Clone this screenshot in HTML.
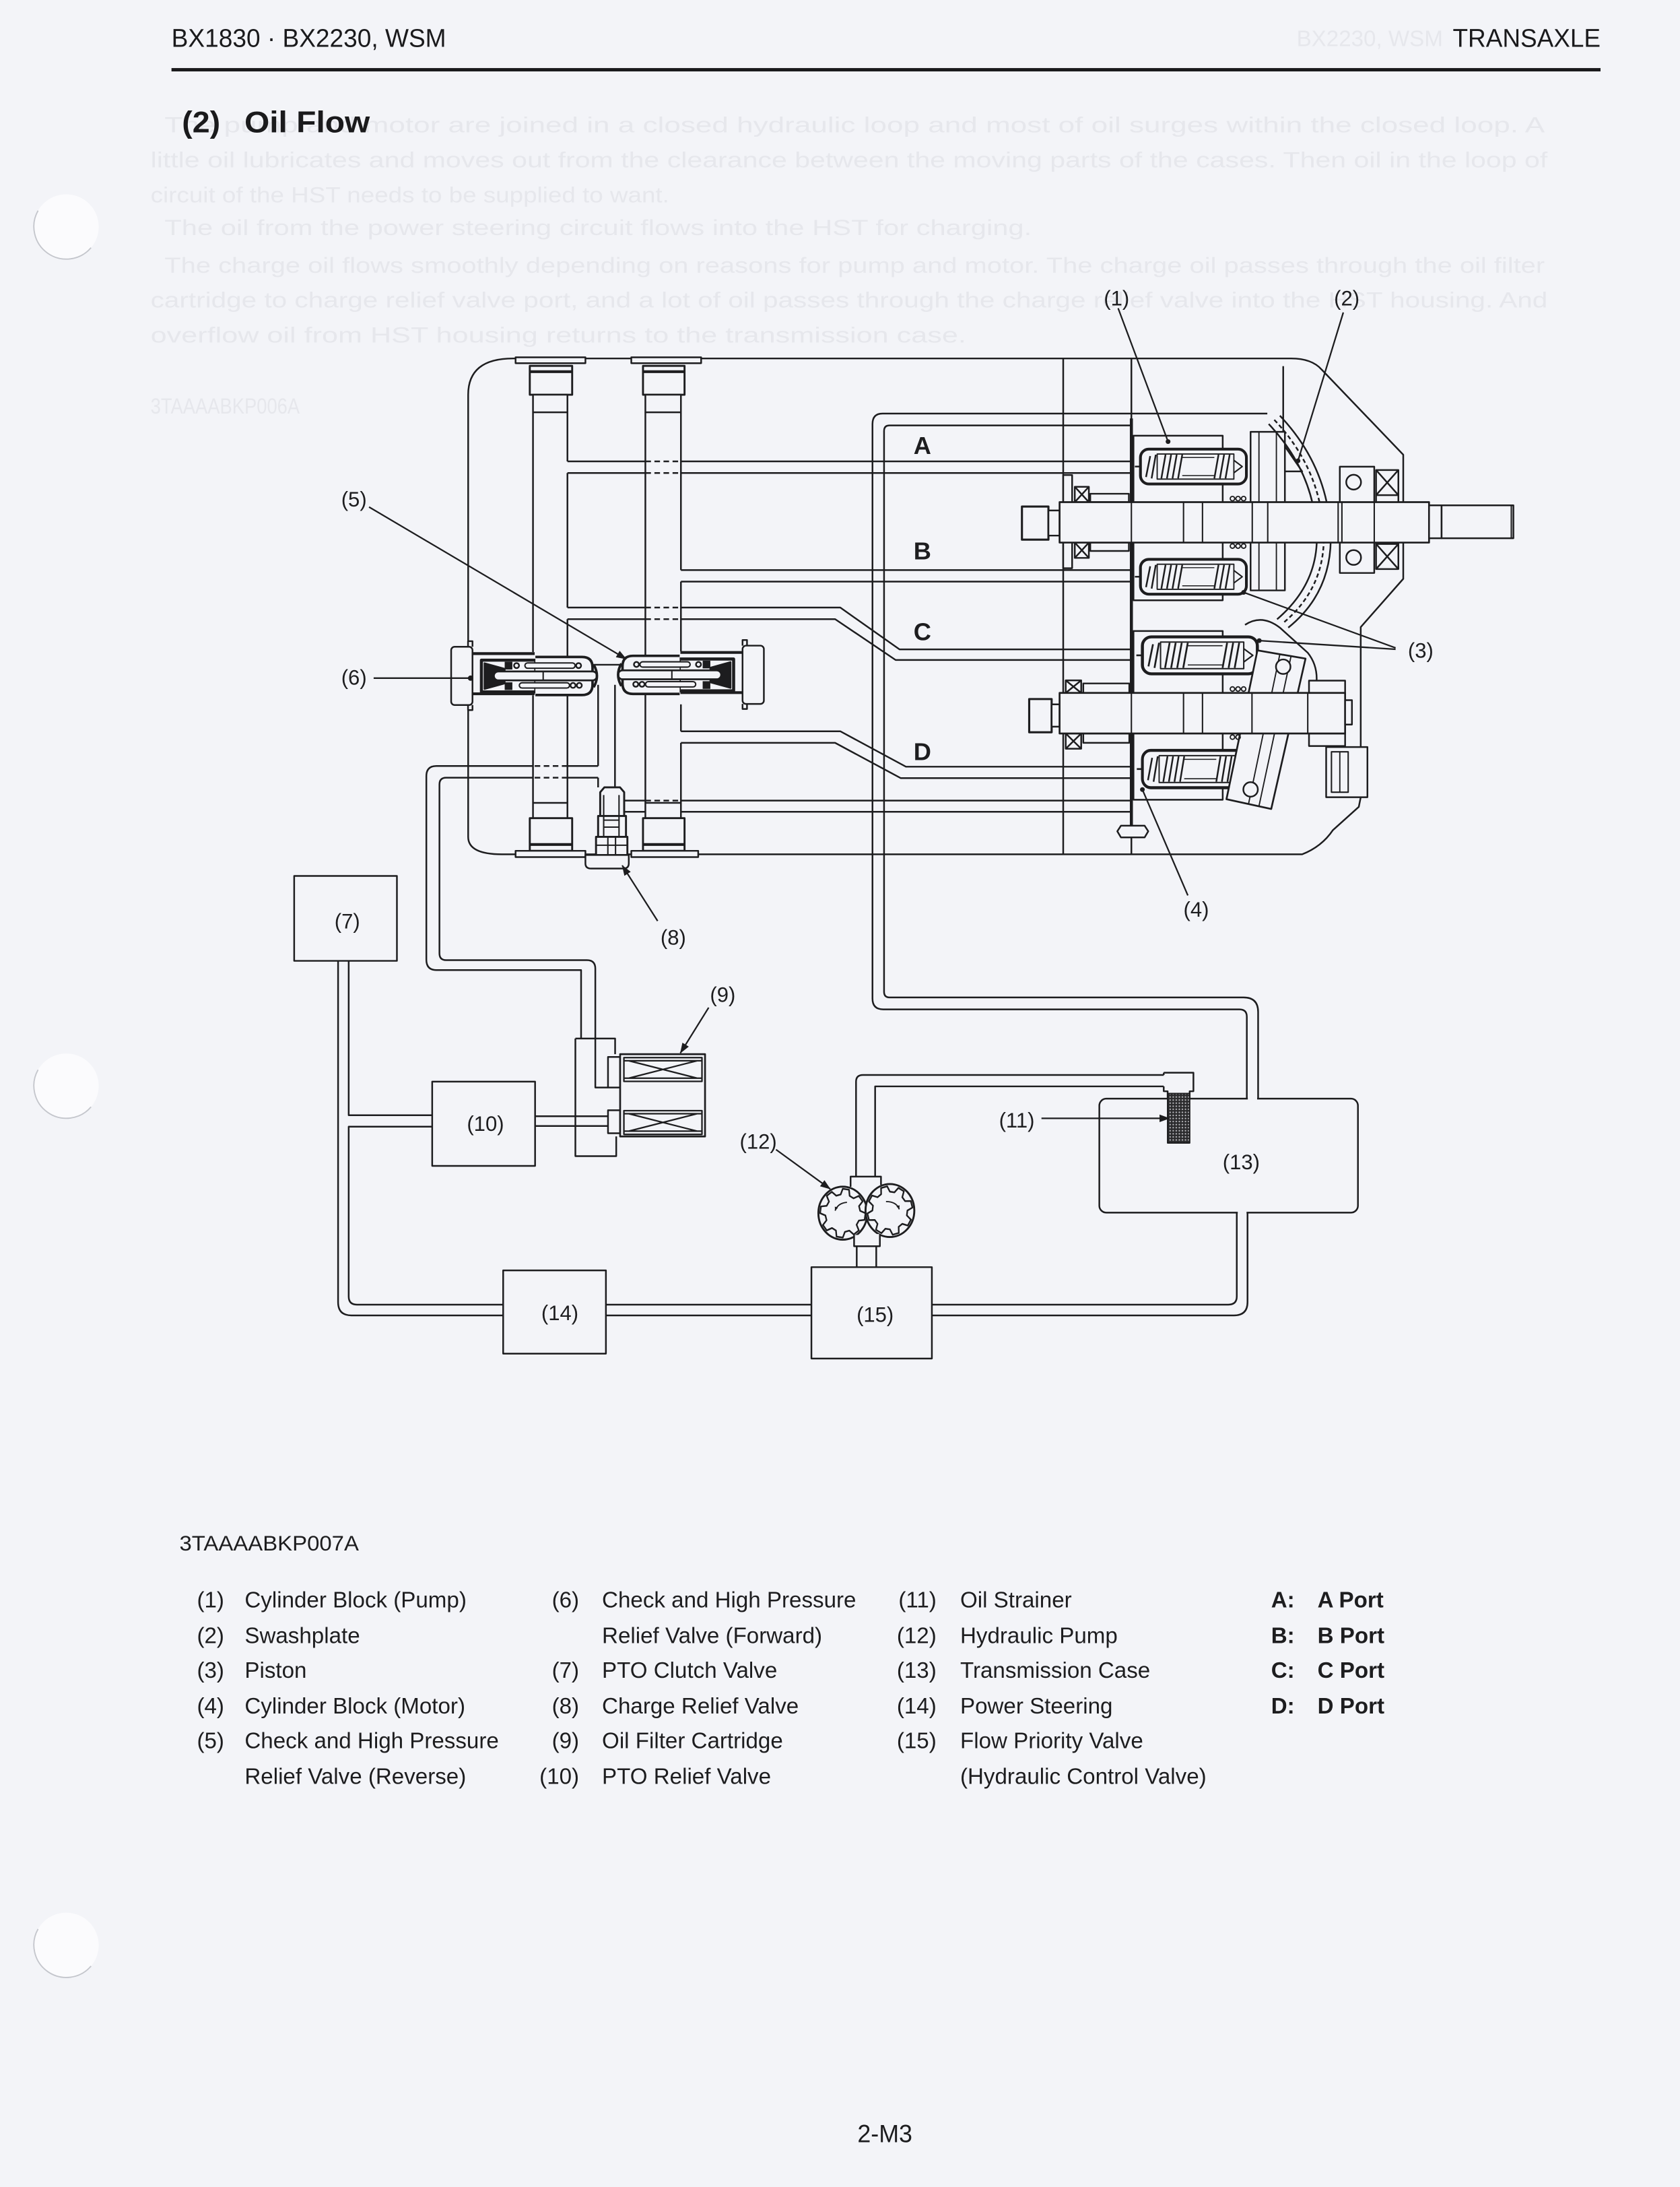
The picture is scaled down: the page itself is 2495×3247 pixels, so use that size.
<!DOCTYPE html>
<html><head><meta charset="utf-8"><title>Oil Flow</title>
<style>html,body{margin:0;padding:0;background:#f3f4f8;}svg{display:block;}</style>
</head><body>
<svg xmlns="http://www.w3.org/2000/svg" width="2495" height="3247" viewBox="0 0 1205 1568" preserveAspectRatio="none" font-family="'Liberation Sans', Arial, Helvetica, sans-serif">
<defs>
<marker id="ah" viewBox="0 0 10 10" refX="9.5" refY="5" markerWidth="7.5" markerHeight="7.5" orient="auto" markerUnits="userSpaceOnUse"><path d="M0,1.4 L10,5 L0,8.6 Z" fill="#1d1d1f"/></marker>
<marker id="sah" viewBox="0 0 10 10" refX="9" refY="5" markerWidth="3" markerHeight="3" orient="auto" markerUnits="userSpaceOnUse"><path d="M0,1 L10,5 L0,9 Z" fill="#1d1d1f"/></marker>
<pattern id="dots" width="2.2" height="2.2" patternUnits="userSpaceOnUse"><rect width="2.2" height="2.2" fill="#2b2b2d"/><circle cx="1.1" cy="1.1" r="0.55" fill="#b8b8bc"/></pattern>
<path id="gear" d="M13.04,-3.49 L17.33,-2.44 L17.33,2.44 L13.04,3.49 L11.69,6.75 L13.98,10.53 L10.53,13.98 L6.75,11.69 L3.49,13.04 L2.44,17.33 L-2.44,17.33 L-3.49,13.04 L-6.75,11.69 L-10.53,13.98 L-13.98,10.53 L-11.69,6.75 L-13.04,3.49 L-17.33,2.44 L-17.33,-2.44 L-13.04,-3.49 L-11.69,-6.75 L-13.98,-10.53 L-10.53,-13.98 L-6.75,-11.69 L-3.49,-13.04 L-2.44,-17.33 L2.44,-17.33 L3.49,-13.04 L6.75,-11.69 L10.53,-13.98 L13.98,-10.53 L11.69,-6.75 Z"/>
<g id="pis" fill="none" stroke="#1d1d1f" stroke-linejoin="round">
 <path d="M-4,12.5 H0" stroke-width="1.2"/>
 <rect x="0" y="0" width="76" height="25" rx="6" fill="#f3f4f8" stroke-width="2"/>
 <rect x="12" y="3.5" width="55" height="18" stroke-width="0.9"/>
 <path d="M4,20 L7,5 M8,21 L11,4 M15,21 L18,4 M19,21 L22,4 M23,21 L26,4 M27,21 L30,4 M53,21 L56,4 M57,21 L60,4 M61,21 L64,4" stroke-width="1.2"/>
 <path d="M30,6 H53 M30,19 H53" stroke-width="0.7"/>
 <path d="M67,8 L73,12.5 L67,17" stroke-width="1"/>
</g>
<g id="v6" fill="none" stroke="#1d1d1f" stroke-width="1.2" stroke-linejoin="round">
 <rect x="323.6" y="463.7" width="15.3" height="41.8" rx="2.5" fill="#f3f4f8"/>
 <path d="M335.7,463.7 V459.7 H338.9 V463.7 M335.7,505.5 V509.1 H338.9 V505.5"/>
 <path d="M338.9,468.6 H383.5 M338.9,497.4 H383.5" stroke-width="2"/>
 <rect x="345.3" y="473.3" width="39" height="22.8" fill="#f3f4f8" stroke-width="2.2"/>
 <path d="M347.5,475.5 L362,479.5 V490 L347.5,494 Z" fill="#1d1d1f"/>
 <rect x="362" y="474.5" width="5.5" height="5.5" fill="#1d1d1f" stroke="none"/>
 <rect x="362" y="489.2" width="5.5" height="5.5" fill="#1d1d1f" stroke="none"/>
 <path d="M384,471 H417.5 Q425,471 425,478.5 V490.8 Q425,498.3 417.5,498.3 H384" fill="#f3f4f8" stroke-width="1.8"/>
 <rect x="376.5" y="475.3" width="36" height="3.8" rx="1.9" fill="#f3f4f8" stroke-width="1"/>
 <rect x="372.5" y="489.5" width="36" height="3.8" rx="1.9" fill="#f3f4f8" stroke-width="1"/>
 <circle cx="370.5" cy="477.2" r="1.8" fill="#f3f4f8"/>
 <circle cx="415" cy="477.2" r="1.8" fill="#f3f4f8"/>
 <circle cx="411" cy="491.4" r="1.8" fill="#f3f4f8"/>
 <circle cx="415.5" cy="491.4" r="1.8" fill="#f3f4f8"/>
 <rect x="354.2" y="481.4" width="74" height="6.4" rx="3.2" fill="#f3f4f8" stroke-width="1.3"/>
 <path d="M389.6,481.4 V487.8" stroke-width="1"/>
 <path d="M425.8,476.5 Q430.5,484.6 425.8,492.7" stroke-width="1.8"/>
</g>
</defs>

<rect x="0" y="0" width="1205" height="1568" fill="#f3f4f8"/>

<!-- hole punches -->
<g>
<circle cx="47.5" cy="162.6" r="23.3" fill="#fbfbfd"/>
<path d="M27.3,151 A23.3,23.3 0 0 0 65.3,177.6" fill="none" stroke="#c4c6cc" stroke-width="0.9"/>
<circle cx="47.5" cy="778.6" r="23.3" fill="#fbfbfd"/>
<path d="M27.3,767 A23.3,23.3 0 0 0 65.3,793.6" fill="none" stroke="#c4c6cc" stroke-width="0.9"/>
<circle cx="47.5" cy="1394.6" r="23.3" fill="#fbfbfd"/>
<path d="M27.3,1383 A23.3,23.3 0 0 0 65.3,1409.6" fill="none" stroke="#c4c6cc" stroke-width="0.9"/>
</g>

<!-- ghost bleed-through text -->
<g fill="#e6e7ec" font-size="15.5">
<text x="118" y="95" textLength="990" lengthAdjust="spacingAndGlyphs">The pump and motor are joined in a closed hydraulic loop and most of oil surges within the closed loop. A</text>
<text x="108" y="120" textLength="1002" lengthAdjust="spacingAndGlyphs">little oil lubricates and moves out from the clearance between the moving parts of the cases. Then oil in the loop of</text>
<text x="108" y="145" textLength="372" lengthAdjust="spacingAndGlyphs">circuit of the HST needs to be supplied to want.</text>
<text x="118" y="168.5" textLength="622" lengthAdjust="spacingAndGlyphs">The oil from the power steering circuit flows into the HST for charging.</text>
<text x="118" y="195.5" textLength="990" lengthAdjust="spacingAndGlyphs">The charge oil flows smoothly depending on reasons for pump and motor. The charge oil passes through the oil filter</text>
<text x="108" y="220.5" textLength="1002" lengthAdjust="spacingAndGlyphs">cartridge to charge relief valve port, and a lot of oil passes through the charge relief valve into the HST housing. And</text>
<text x="108" y="245.5" textLength="585" lengthAdjust="spacingAndGlyphs">overflow oil from HST housing returns to the transmission case.</text>
<text x="108" y="296.5" textLength="107" lengthAdjust="spacingAndGlyphs">3TAAAABKP006A</text>
<text x="930" y="33" font-size="16">BX2230, WSM</text>
</g>

<!-- header -->
<g fill="#1a1a1c">
<text x="123" y="33.6" font-size="18.3" textLength="197" lengthAdjust="spacingAndGlyphs">BX1830 · BX2230, WSM</text>
<text x="1042" y="33.6" font-size="18.3" textLength="106" lengthAdjust="spacingAndGlyphs">TRANSAXLE</text>
<rect x="123" y="48.8" width="1025" height="2.4"/>
<text x="130.5" y="95" font-size="21.5" font-weight="bold" textLength="27.5" lengthAdjust="spacingAndGlyphs">(2)</text>
<text x="175.3" y="95" font-size="21.5" font-weight="bold" textLength="90" lengthAdjust="spacingAndGlyphs">Oil Flow</text>
</g>

<!-- DIAGRAM -->
<g fill="none" stroke="#1d1d1f" stroke-width="1.2" stroke-linejoin="round">
<!-- housing outline -->
<path d="M335.8,459.7 V283 Q335.8,257 368,257 H926 Q941,257 948,265 L1006.5,326 V415 L976,449.6 V571.6 L974.6,578.5 L956,595.2 Q948,607 934,612.5 H360 Q335.8,612.5 335.8,600 V509"/>
<path d="M920.4,262.5 V312.4"/>
<path d="M762.6,257 V612.5"/>
<path d="M811.5,257 V612.5"/>
<path d="M811.5,300 V600" stroke-width="2.2"/>

<!-- tube walls -->
<path d="M382.3,295.6 V467.5 M382.3,498.5 V575.6"/>
<path d="M407,295.6 V330.8 M407,339.1 V435.6 M407,443.9 V471 M407,497.5 V575.6"/>
<path d="M462.9,295.6 V470 M462.9,498 V575.6"/>
<path d="M488.4,295.6 V408.7 M488.4,417 V467 M488.4,505 V524.3 M488.4,532.6 V575.6"/>

<!-- port channels -->
<path d="M407,330.8 H462.9 M488.4,330.8 H811.5 M407,339.1 H462.9 M488.4,339.1 H811.5"/>
<path d="M462.9,330.8 H488.4 M462.9,339.1 H488.4" stroke-dasharray="4 2.5"/>
<path d="M488.4,408.7 H811.5 M488.4,417 H811.5"/>
<path d="M407,435.6 H462.9 M488.4,435.6 H602.7 L645.2,465.6 H811.5"/>
<path d="M407,443.9 H462.9 M488.4,443.9 H599 L642.4,473.2 H811.5"/>
<path d="M462.9,435.6 H488.4 M462.9,443.9 H488.4" stroke-dasharray="4 2.5"/>
<path d="M488.4,524.3 H602.7 L649.8,549.7 H811.5"/>
<path d="M488.4,532.6 H599 L646.1,557.9 H811.5"/>
<path d="M447.7,574 H462.9 M488.4,574 H811.5 M447.7,582 H462.9 M488.4,582 H811.5"/>
<path d="M462.9,574 H488.4 M462.9,582 H488.4" stroke-dasharray="4 2.5"/>

<!-- middle passage -->
<path d="M425,476.6 H446"/>
<path d="M429,491 V549.2 M429,557.6 V564.5"/>
<path d="M441.1,491 V564.5"/>

<!-- charge line left -->
<path d="M429,549.2 H407 M382.3,549.2 H313 Q305.8,549.2 305.8,556.5 V688 Q305.8,695.5 313,695.5 H416.8 V744.6"/>
<path d="M429,557.6 H407 M382.3,557.6 H320 Q315.2,557.6 315.2,562.5 V683.5 Q315.2,688.4 320,688.4 H421 Q427,688.4 427,694.5 V779.7 H436.1"/>
<path d="M407,549.2 H382.3 M407,557.6 H382.3" stroke-dasharray="4 2.5"/>

<!-- charge line right -->
<path d="M909,296.5 H633 Q625.8,296.5 625.8,304 V716 Q625.8,723.7 633.5,723.7 H889 Q894.3,723.7 894.3,729 V787.7"/>
<path d="M811.5,305 H638 Q634.1,305 634.1,309 V711 Q634.1,715.1 638,715.1 H892 Q902.4,715.1 902.4,725.5 V787.7"/>

<!-- plugs and caps -->
<rect x="369.8" y="256.2" width="50.1" height="4.2" fill="#f3f4f8"/>
<rect x="452.8" y="256.2" width="50.1" height="4.2" fill="#f3f4f8"/>
<rect x="380" y="262.3" width="30.4" height="20.7" fill="#f3f4f8" stroke-width="1.4"/>
<path d="M380,266.5 H410.4" stroke-width="2"/>
<rect x="382.3" y="283" width="24.7" height="12.6" fill="#f3f4f8"/>
<rect x="461.2" y="262.3" width="29.8" height="20.7" fill="#f3f4f8" stroke-width="1.4"/>
<path d="M461.2,266.5 H491" stroke-width="2"/>
<rect x="462.9" y="283" width="25.5" height="12.6" fill="#f3f4f8"/>
<rect x="382.3" y="575.6" width="24.7" height="11" fill="#f3f4f8"/>
<rect x="380" y="586.6" width="30.4" height="23.4" fill="#f3f4f8" stroke-width="1.4"/>
<path d="M380,605.5 H410.4" stroke-width="2"/>
<rect x="462.9" y="575.6" width="25.5" height="11" fill="#f3f4f8"/>
<rect x="461.2" y="586.6" width="29.8" height="23.4" fill="#f3f4f8" stroke-width="1.4"/>
<path d="M461.2,605.5 H491" stroke-width="2"/>
<rect x="369.8" y="610" width="50.1" height="4.5" fill="#f3f4f8"/>
<rect x="452.8" y="610" width="48" height="4.5" fill="#f3f4f8"/>

<!-- charge relief valve (8) -->
<path d="M430.5,585 V568 L433.5,564.5 H444.7 L447.7,568 V585 Z" fill="#f3f4f8" stroke-width="1.4"/>
<rect x="429" y="585" width="20" height="15" fill="#f3f4f8" stroke-width="1.4"/>
<path d="M433,570 V600 M444,570 V600 M433,588 H444 M433,593 H444" stroke-width="1"/>
<rect x="427.5" y="600" width="22.5" height="13" fill="#f3f4f8" stroke-width="1.4"/>
<path d="M427.5,606 H450 M436,600 V613 M441.5,600 V613" stroke-width="1"/>
<path d="M419.9,613 H451 V619 Q451,622.7 447,622.7 H424 Q419.9,622.7 419.9,619 Z" fill="#f3f4f8"/>

<!-- lower circuit -->
<rect x="788.5" y="787.7" width="185.5" height="81.7" rx="5"/>
<rect x="895" y="786" width="6.7" height="3.2" fill="#f3f4f8" stroke="none"/>
<rect x="887.8" y="868" width="6.3" height="3" fill="#f3f4f8" stroke="none"/>
<path d="M887.1,869.4 V929.5 Q887.1,935.4 881,935.4 H668.4"/>
<path d="M894.8,869.4 V933.5 Q894.8,943.1 885,943.1 H668.4"/>
<path d="M434.6,935.4 H582 M434.6,943.1 H582"/>
<path d="M360.9,935.4 H256 Q250.1,935.4 250.1,929.5 V807.8 H310"/>
<path d="M360.9,943.1 H252 Q242.5,943.1 242.5,933.5 V688.9"/>
<path d="M250.1,688.9 V799.6 H310"/>
<path d="M383.8,800.3 H436.1 M383.8,807.3 H436.1"/>
<rect x="211" y="628" width="73.7" height="60.9"/>
<rect x="310" y="775.5" width="73.8" height="60.4"/>
<rect x="360.9" y="910.8" width="73.7" height="59.7"/>
<rect x="582" y="908.5" width="86.4" height="65.5"/>

<!-- pump pipes -->
<path d="M614,844 V775.5 Q614,770.7 619,770.7 H834.7"/>
<path d="M627.7,844 V778.9 H834.7"/>
<path d="M614.5,893.5 V908.5 M628.5,893.5 V908.5"/>
<!-- gear pump (12) -->
<ellipse cx="604.5" cy="869.8" rx="17.5" ry="19" fill="#f3f4f8" stroke-width="1.4"/>
<ellipse cx="638.3" cy="867.9" rx="17.5" ry="19" fill="#f3f4f8" stroke-width="1.4"/>
<use href="#gear" transform="translate(604.5,869.8) scale(0.93,1.0) rotate(8)" fill="#f3f4f8" stroke="#1d1d1f" stroke-width="1.2"/>
<use href="#gear" transform="translate(638.3,867.9) scale(0.93,1.0) rotate(30)" fill="#f3f4f8" stroke="#1d1d1f" stroke-width="1.2"/>
<path d="M610.1,850.9 V843.6 H631.9 V849.5" fill="#f3f4f8"/>
<path d="M612.6,885.5 V893.5 H631.1 V884.7" fill="#f3f4f8"/>
<path d="M607.5,862 Q601,862.5 599,868" stroke-width="0.9" marker-end="url(#sah)"/>
<path d="M635.5,861.5 Q643,861.5 645,867" stroke-width="0.9" marker-end="url(#sah)"/>

<!-- strainer (11) -->
<path d="M834.7,769.1 H856 V782.4 H853.3 V787.3 M834.7,769.1 V770.7 M834.7,778.9 V782.4 H837.5 V787.3"/>
<rect x="837.5" y="784" width="15.8" height="35.5" fill="url(#dots)" stroke-width="1"/>

<!-- filter (9) -->
<path d="M412.7,744.6 H441.2 V755.8 M412.7,744.6 V828.9 H442 V814.8"/>
<rect x="436.1" y="757.8" width="8.7" height="21.9" fill="#f3f4f8"/>
<rect x="436.1" y="796" width="8.7" height="16.5" fill="#f3f4f8"/>
<rect x="444.8" y="755.8" width="60.9" height="59" fill="#f3f4f8" stroke-width="1.3"/>
<g stroke-width="1.1">
<rect x="447.5" y="758.3" width="56" height="17"/>
<path d="M447.5,760.5 H503.5 M447.5,773 H503.5 M451,760.5 L500,773 M451,773 L500,760.5"/>
<rect x="447.5" y="796.3" width="56" height="17"/>
<path d="M447.5,798.5 H503.5 M447.5,811 H503.5 M451,798.5 L500,811 M451,811 L500,798.5"/>
</g>

<!-- RIGHT CLUSTER: pump & motor -->
<rect x="813" y="312.4" width="64" height="118" fill="#f3f4f8"/>
<rect x="813" y="452.4" width="64" height="121" fill="#f3f4f8"/>
<path d="M893,448 Q905,440 918,450 L938,468 Q946,478 944,492"/>

<!-- pump swashplate -->
<rect x="897" y="309.6" width="24.6" height="113.7" fill="#f3f4f8"/>
<path d="M903,309.6 V423.3 M915.5,309.6 V423.3" stroke-width="0.9"/>
<path d="M910,304 Q944,340 944.5,387 Q944,420 916,444"/>
<path d="M914,301 Q949,338 949.5,387 Q949,423 920,447" stroke-dasharray="3 2"/>
<path d="M918,298 Q954,336 954.5,387 Q954,426 924,450"/>
<path d="M921.6,320 L934,338 L921.6,338"/>

<!-- right bearings -->
<rect x="961" y="334.6" width="24.7" height="76.2" fill="#f3f4f8"/>
<circle cx="970.9" cy="345.7" r="5.3"/>
<circle cx="970.9" cy="399.7" r="5.3"/>
<rect x="987" y="337" width="16" height="71" fill="#f3f4f8"/>
<path d="M987,337 L1003,355 M1003,337 L987,355 M987,390 L1003,408 M1003,390 L987,408 M987,355 H1003 M987,390 H1003"/>

<!-- upper shaft -->
<rect x="762.6" y="340.6" width="6.4" height="66.8" fill="#f3f4f8"/>
<rect x="770.9" y="349" width="10.1" height="11" fill="#f3f4f8"/>
<path d="M770.9,349 L781,360 M781,349 L770.9,360"/>
<rect x="770.9" y="389" width="10.1" height="11" fill="#f3f4f8"/>
<path d="M770.9,389 L781,400 M781,389 L770.9,400"/>
<rect x="782" y="354" width="27.7" height="6" fill="#f3f4f8"/>
<rect x="782" y="389" width="27.7" height="6" fill="#f3f4f8"/>
<rect x="733" y="363.2" width="19" height="23.7" fill="#f3f4f8" stroke-width="1.5"/>
<rect x="752" y="366" width="8" height="18" fill="#f3f4f8"/>
<rect x="760" y="360" width="265" height="29" fill="#f3f4f8" stroke-width="1.3"/>
<path d="M811.5,360 V389 M848.9,360 V389 M862.5,360 V389 M898.2,360 V389 M909.3,360 V389 M959.8,360 V389 M962.5,360 V389 M985.7,360 V389" stroke-width="1"/>
<rect x="1025" y="362.3" width="9" height="23.6" fill="#f3f4f8"/>
<rect x="1034" y="362.3" width="51.5" height="23.6" fill="#f3f4f8"/>
<path d="M1084,362.3 V385.9" stroke-width="1"/>
<g stroke-width="0.9">
<circle cx="884" cy="357.5" r="1.6"/><circle cx="888" cy="357.5" r="1.6"/><circle cx="892" cy="357.5" r="1.6"/>
<circle cx="884" cy="391.5" r="1.6"/><circle cx="888" cy="391.5" r="1.6"/><circle cx="892" cy="391.5" r="1.6"/>
</g>

<!-- pistons -->
<use href="#pis" transform="translate(818,322)"/>
<use href="#pis" transform="translate(818,401)"/>
<use href="#pis" transform="translate(819.4,456.6) scale(1.085,1.06)"/>
<use href="#pis" transform="translate(819.4,538) scale(1,1.07)"/>

<!-- motor tilted swashplate -->
<path d="M901.9,466.3 L936.4,472.2 L911.8,580 L879.7,573 Z" fill="#f3f4f8" stroke-width="1.3"/>
<path d="M918,469 L895.5,576.5 M926,470.5 L903,578" stroke-width="0.9"/>
<circle cx="920.4" cy="478" r="5.2" fill="#f3f4f8"/>
<circle cx="897" cy="566" r="5.2" fill="#f3f4f8"/>

<!-- lower shaft -->
<rect x="764.4" y="487.8" width="11.1" height="9" fill="#f3f4f8"/>
<path d="M764.4,487.8 L775.5,496.8 M775.5,487.8 L764.4,496.8"/>
<rect x="764.4" y="525.9" width="11.1" height="10.9" fill="#f3f4f8"/>
<path d="M764.4,525.9 L775.5,536.8 M775.5,525.9 L764.4,536.8"/>
<rect x="777" y="490" width="33" height="6.8" fill="#f3f4f8"/>
<rect x="777" y="525.9" width="33" height="6.7" fill="#f3f4f8"/>
<rect x="938.9" y="488" width="25.9" height="8.8" fill="#f3f4f8"/>
<rect x="938.9" y="525.9" width="25.9" height="9" fill="#f3f4f8"/>
<rect x="738.2" y="501.2" width="16.1" height="23.8" fill="#f3f4f8" stroke-width="1.5"/>
<rect x="754.3" y="505" width="5.7" height="16" fill="#f3f4f8"/>
<rect x="760" y="496.8" width="204.8" height="29.1" fill="#f3f4f8" stroke-width="1.3"/>
<path d="M811.5,496.8 V525.9 M848.9,496.8 V525.9 M862.5,496.8 V525.9 M898,496.8 V525.9 M938,496.8 V525.9" stroke-width="1"/>
<rect x="964.8" y="502" width="4.9" height="17.5" fill="#f3f4f8"/>
<g stroke-width="0.9">
<circle cx="884" cy="494" r="1.6"/><circle cx="888" cy="494" r="1.6"/><circle cx="892" cy="494" r="1.6"/>
<circle cx="884" cy="528.5" r="1.6"/><circle cx="888" cy="528.5" r="1.6"/>
</g>
<rect x="951.2" y="535.6" width="29.6" height="36" fill="#f3f4f8"/>
<rect x="955" y="539" width="12" height="29" stroke-width="1"/>
<path d="M961,539 V568" stroke-width="0.9"/>
<path d="M801.4,596 L804,592 H821 L823.6,596 L821,600.4 H804 Z" fill="#f3f4f8"/>

<!-- check & HP relief valves -->
<use href="#v6"/>
<use href="#v6" transform="translate(871.5,-0.8) scale(-1,1)"/>

<!-- leaders -->
<g stroke-width="1.1">
<path d="M802,221 L837.8,316.6"/>
<path d="M963.5,224 L931,330.4"/>
<path d="M1001,464.5 L892,424.7 M1001,465.5 L903.2,459.3"/>
<path d="M852,642 L819.4,566.1"/>
<path d="M268,486.2 H337.5"/>
<path d="M264.7,363.5 L449.2,472.5" marker-end="url(#ah)"/>
<path d="M471.7,660.3 L446.3,620.5" marker-end="url(#ah)"/>
<path d="M508.3,722.4 L488,755" marker-end="url(#ah)"/>
<path d="M747,801.8 H838.8" marker-end="url(#ah)"/>
<path d="M556.6,824.2 L595.5,852.5" marker-end="url(#ah)"/>
</g>
<g fill="#1d1d1f" stroke="none">
<circle cx="837.8" cy="316.6" r="1.7"/>
<circle cx="931" cy="330.4" r="1.7"/>
<circle cx="892" cy="424.7" r="1.7"/>
<circle cx="903.2" cy="459.3" r="1.7"/>
<circle cx="819.4" cy="566.1" r="1.7"/>
<circle cx="337.5" cy="486.2" r="1.9"/>
</g>
</g>

<!-- diagram labels -->
<g fill="#1d1d1f" font-size="15" text-anchor="middle">
<text x="800.9" y="219">(1)</text>
<text x="966" y="219">(2)</text>
<text x="1019" y="471.5">(3)</text>
<text x="858" y="657.3">(4)</text>
<text x="253.9" y="363.2">(5)</text>
<text x="253.9" y="490.8">(6)</text>
<text x="249.1" y="665.6">(7)</text>
<text x="482.9" y="677.3">(8)</text>
<text x="518.4" y="718.3">(9)</text>
<text x="348.2" y="810.8">(10)</text>
<text x="729.3" y="808.4">(11)</text>
<text x="543.9" y="823.6">(12)</text>
<text x="890.3" y="838.4">(13)</text>
<text x="401.6" y="946.5">(14)</text>
<text x="627.7" y="947.7">(15)</text>
</g>
<g fill="#1d1d1f" font-size="17.5" font-weight="bold" text-anchor="middle">
<text x="661.6" y="325.5">A</text>
<text x="661.6" y="401">B</text>
<text x="661.6" y="459">C</text>
<text x="661.6" y="545">D</text>
</g>

<!-- legend -->
<g fill="#1d1d1f" font-size="16">
<text x="128.7" y="1111.7" font-size="15" textLength="128.7" lengthAdjust="spacingAndGlyphs">3TAAAABKP007A</text>
<g text-anchor="end">
<text x="160.8" y="1152.5">(1)</text>
<text x="160.8" y="1178">(2)</text>
<text x="160.8" y="1203">(3)</text>
<text x="160.8" y="1228.5">(4)</text>
<text x="160.8" y="1253.5">(5)</text>
<text x="415.4" y="1152.5">(6)</text>
<text x="415.4" y="1203">(7)</text>
<text x="415.4" y="1228.5">(8)</text>
<text x="415.4" y="1253.5">(9)</text>
<text x="415.4" y="1279">(10)</text>
<text x="671.7" y="1152.5">(11)</text>
<text x="671.7" y="1178">(12)</text>
<text x="671.7" y="1203">(13)</text>
<text x="671.7" y="1228.5">(14)</text>
<text x="671.7" y="1253.5">(15)</text>
</g>
<text x="175.5" y="1152.5">Cylinder Block (Pump)</text>
<text x="175.5" y="1178">Swashplate</text>
<text x="175.5" y="1203">Piston</text>
<text x="175.5" y="1228.5">Cylinder Block (Motor)</text>
<text x="175.5" y="1253.5">Check and High Pressure</text>
<text x="175.5" y="1279">Relief Valve (Reverse)</text>
<text x="431.8" y="1152.5">Check and High Pressure</text>
<text x="431.8" y="1178">Relief Valve (Forward)</text>
<text x="431.8" y="1203">PTO Clutch Valve</text>
<text x="431.8" y="1228.5">Charge Relief Valve</text>
<text x="431.8" y="1253.5">Oil Filter Cartridge</text>
<text x="431.8" y="1279">PTO Relief Valve</text>
<text x="688.7" y="1152.5">Oil Strainer</text>
<text x="688.7" y="1178">Hydraulic Pump</text>
<text x="688.7" y="1203">Transmission Case</text>
<text x="688.7" y="1228.5">Power Steering</text>
<text x="688.7" y="1253.5">Flow Priority Valve</text>
<text x="688.7" y="1279">(Hydraulic Control Valve)</text>
<g font-weight="bold">
<text x="911.7" y="1152.5">A:</text>
<text x="911.7" y="1178">B:</text>
<text x="911.7" y="1203">C:</text>
<text x="911.7" y="1228.5">D:</text>
<text x="945" y="1152.5">A Port</text>
<text x="945" y="1178">B Port</text>
<text x="945" y="1203">C Port</text>
<text x="945" y="1228.5">D Port</text>
</g>
</g>

<!-- footer -->
<text x="615" y="1535.9" fill="#1d1d1f" font-size="18" textLength="39.4" lengthAdjust="spacingAndGlyphs">2-M3</text>
</svg>
</body></html>
